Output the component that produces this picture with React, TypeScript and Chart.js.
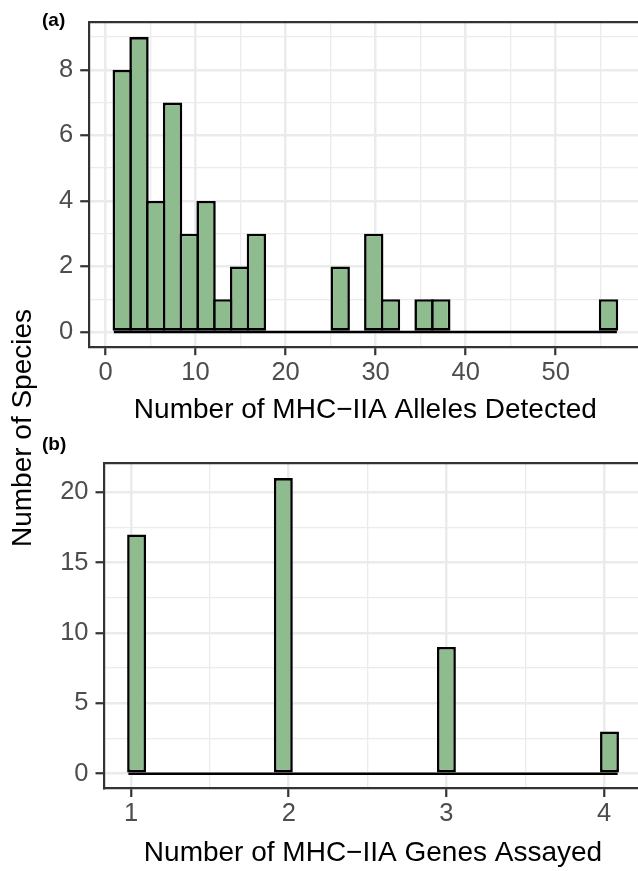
import React, { useEffect, useRef } from "react";
import { Chart, registerables } from "chart.js";

Chart.register(...registerables);

// ---------- data ----------
// Panel (a): histogram of number of MHC-IIA alleles detected (30 bins)
const allelesBinStart = 0.931;
const allelesBinWidth = 1.862;
const allelesCounts = [8, 9, 4, 7, 3, 4, 1, 2, 3, 0, 0, 0, 0, 2, 0, 3, 1, 0, 1, 1, 0, 0, 0, 0, 0, 0, 0, 0, 0, 1];
const allelesXMajor = [0, 10, 20, 30, 40, 50];
const allelesXMinor = [5, 15, 25, 35, 45, 55];
const allelesYMajor = [0, 2, 4, 6, 8];
const allelesYMinor = [1, 3, 5, 7, 9];

// Panel (b): histogram of number of MHC-IIA genes assayed (30 bins)
const genesBinStart = 0.983;
const genesBinWidth = 0.10345;
const genesCounts = [17, 0, 0, 0, 0, 0, 0, 0, 0, 21, 0, 0, 0, 0, 0, 0, 0, 0, 0, 9, 0, 0, 0, 0, 0, 0, 0, 0, 0, 3];
const genesXMajor = [1, 2, 3, 4];
const genesXMinor = [1.5, 2.5, 3.5];
const genesYMajor = [0, 5, 10, 15, 20];
const genesYMinor = [2.5, 7.5, 12.5, 17.5];

const allelesTitle = "Number of MHC\u2212IIA Alleles Detected";
const genesTitle = "Number of MHC\u2212IIA Genes Assayed";
const yTitle = "Number of Species";

// ---------- styling ----------
const FONT = '"Liberation Sans", Arial, Helvetica, sans-serif';
const FILL = "#8FBC8F";
const GRID = "#EBEBEB";
const AXIS = "#333333";
const TICK_TEXT = "#4D4D4D";
const TICK_FONT = 25.5;
const TITLE_FONT = 28;
const BAR_BORDER = 2.6;

type Area = { left: number; top: number; right: number; bottom: number };

type PanelProps = {
  top: number;
  width: number;
  height: number;
  area: Area;
  counts: number[];
  binStart: number;
  binWidth: number;
  xRange: [number, number];
  yRange: [number, number];
  xMajor: number[];
  xMinor: number[];
  yMajor: number[];
  yMinor: number[];
  xTitle: string;
  titlePadBottom: number;
};

const isIn = (arr: number[], v: number | undefined) =>
  v !== undefined && arr.some((a) => Math.abs(a - v) < 1e-9);

function HistPanel(p: PanelProps) {
  const ref = useRef<HTMLCanvasElement>(null);

  useEffect(() => {
    const canvas = ref.current;
    if (!canvas) return;

    const barData = p.counts.map((c, i) => ({ x: p.binStart + (i + 0.5) * p.binWidth, y: c }));
    const binEnd = p.binStart + p.counts.length * p.binWidth;
    const binPx = (p.binWidth * (p.area.right - p.area.left)) / (p.xRange[1] - p.xRange[0]);
    const barPct = (binPx + BAR_BORDER) / binPx;

    const gridFor = (major: number[]) => ({
      display: true,
      drawOnChartArea: true,
      drawTicks: true,
      offset: false,
      color: GRID,
      lineWidth: (ctx: any) => (isIn(major, ctx.tick?.value) ? 2.5 : 1.3),
      tickColor: (ctx: any) => (isIn(major, ctx.tick?.value) ? AXIS : "rgba(0,0,0,0)"),
      tickWidth: (ctx: any) => (isIn(major, ctx.tick?.value) ? 2.2 : 0),
      tickLength: 8.5,
    });

    const labelFor = (major: number[]) => (value: any) =>
      isIn(major, Number(value)) ? String(value) : "";

    const chart = new Chart(canvas, {
      type: "bar",
      data: {
        datasets: [
          {
            type: "bar",
            data: barData as any,
            backgroundColor: FILL,
            borderColor: "#000000",
            borderWidth: BAR_BORDER,
            borderSkipped: false,
            barPercentage: barPct,
            categoryPercentage: 1,
            inflateAmount: 0,
            xAxisID: "x",
            yAxisID: "y",
          } as any,
          {
            type: "line",
            data: [
              { x: p.binStart, y: 0 },
              { x: binEnd, y: 0 },
            ] as any,
            borderColor: "#000000",
            borderWidth: BAR_BORDER,
            pointRadius: 0,
            fill: false,
            xAxisID: "x",
            yAxisID: "y",
          } as any,
        ],
      },
      options: {
        responsive: false,
        animation: false,
        events: [],
        layout: {
          padding: {
            left: 0,
            top: p.area.top,
            right: p.width - p.area.right,
            bottom: 0,
          },
        },
        plugins: {
          legend: { display: false },
          tooltip: { enabled: false },
          title: { display: false },
        },
        scales: {
          x: {
            type: "linear",
            position: "bottom",
            min: p.xRange[0],
            max: p.xRange[1],
            offset: false,
            grid: gridFor(p.xMajor) as any,
            border: { display: true, color: AXIS, width: 2.2 },
            afterBuildTicks: (scale: any) => {
              scale.ticks = [...p.xMajor, ...p.xMinor].sort((a, b) => a - b).map((v) => ({ value: v }));
            },
            afterFit: (scale: any) => {
              scale.height = p.height - p.area.bottom;
            },
            ticks: {
              autoSkip: false,
              maxRotation: 0,
              minRotation: 0,
              padding: 2,
              color: TICK_TEXT,
              font: { family: FONT, size: TICK_FONT },
              callback: labelFor(p.xMajor),
            },
            title: {
              display: true,
              text: p.xTitle,
              color: "#000000",
              font: { family: FONT, size: TITLE_FONT },
              padding: { top: 0, bottom: p.titlePadBottom },
            },
          },
          xTop: {
            type: "linear",
            position: "top",
            display: true,
            min: p.xRange[0],
            max: p.xRange[1],
            grid: { display: false },
            ticks: { display: false },
            border: { display: true, color: AXIS, width: 2.2 },
            afterFit: (scale: any) => {
              scale.height = 0;
            },
          },
          y: {
            type: "linear",
            position: "left",
            min: p.yRange[0],
            max: p.yRange[1],
            grid: gridFor(p.yMajor) as any,
            border: { display: true, color: AXIS, width: 2.2 },
            afterBuildTicks: (scale: any) => {
              scale.ticks = [...p.yMajor, ...p.yMinor].sort((a, b) => a - b).map((v) => ({ value: v }));
            },
            afterFit: (scale: any) => {
              scale.width = p.area.left;
            },
            ticks: {
              autoSkip: false,
              padding: 7,
              color: TICK_TEXT,
              font: { family: FONT, size: TICK_FONT },
              callback: labelFor(p.yMajor),
            },
          },
        },
      } as any,
    });

    return () => chart.destroy();
  }, []);

  return (
    <canvas
      ref={ref}
      width={p.width}
      height={p.height}
      style={{
        position: "absolute",
        left: 0,
        top: p.top,
        width: p.width,
        height: p.height,
        display: "block",
      }}
    />
  );
}

export default function App() {
  const tagStyle: React.CSSProperties = {
    position: "absolute",
    left: 42,
    fontFamily: FONT,
    fontWeight: "bold",
    fontSize: 19,
    lineHeight: "19px",
    color: "#000",
    whiteSpace: "nowrap",
  };
  return (
    <div
      style={{
        position: "fixed",
        left: 0,
        top: 0,
        width: 638,
        height: 871,
        overflow: "hidden",
        background: "#ffffff",
      }}
    >
      <HistPanel
        top={0}
        width={650}
        height={435}
        area={{ left: 88.7, top: 20.7, right: 642, bottom: 346.7 }}
        counts={allelesCounts}
        binStart={allelesBinStart}
        binWidth={allelesBinWidth}
        xRange={[-1.862, 59.58]}
        yRange={[-0.45, 9.45]}
        xMajor={allelesXMajor}
        xMinor={allelesXMinor}
        yMajor={allelesYMajor}
        yMinor={allelesYMinor}
        xTitle={allelesTitle}
        titlePadBottom={7.8}
      />
      <HistPanel
        top={440}
        width={650}
        height={431}
        area={{ left: 104, top: 23.3, right: 642, bottom: 348.5 }}
        counts={genesCounts}
        binStart={genesBinStart}
        binWidth={genesBinWidth}
        xRange={[0.828, 4.241]}
        yRange={[-1.05, 22.05]}
        xMajor={genesXMajor}
        xMinor={genesXMinor}
        yMajor={genesYMajor}
        yMinor={genesYMinor}
        xTitle={genesTitle}
        titlePadBottom={0.8}
      />
      <div style={{ ...tagStyle, top: 10 }}>(a)</div>
      <div style={{ ...tagStyle, top: 434 }}>(b)</div>
      <div
        style={{
          position: "absolute",
          left: 22,
          top: 427.5,
          transform: "translate(-50%, -50%) rotate(-90deg)",
          fontFamily: FONT,
          fontSize: TITLE_FONT,
          lineHeight: `${TITLE_FONT}px`,
          color: "#000",
          whiteSpace: "nowrap",
        }}
      >
        {yTitle}
      </div>
    </div>
  );
}
